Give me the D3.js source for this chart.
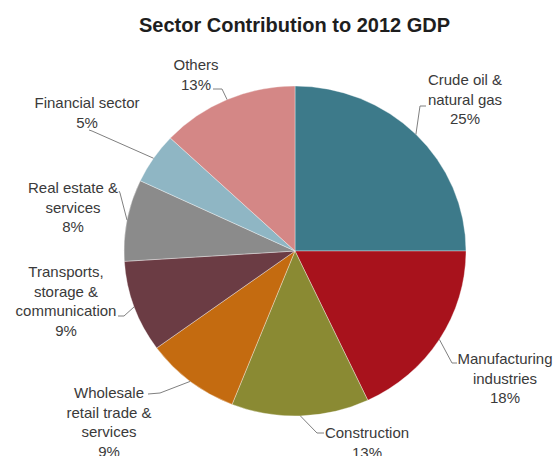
<!DOCTYPE html>
<html>
<head>
<meta charset="utf-8">
<script src="https://cdn.jsdelivr.net/npm/d3@7"></script>
<style>
  html, body { margin: 0; padding: 0; background: #fff; }
  svg { display: block; }
  text { font-family: "Liberation Sans", Arial, sans-serif; }
</style>
</head>
<body>
<svg id="chart" width="553" height="456"></svg>
<script>
// Sector shares of 2012 GDP (percent), clockwise from 12 o'clock
const categories = [
  "Crude oil &\nnatural gas",
  "Manufacturing\nindustries",
  "Construction",
  "Wholesale\nretail trade &\nservices",
  "Transports,\nstorage &\ncommunication",
  "Real estate &\nservices",
  "Financial sector",
  "Others"
];
const shares = [25, 18, 13, 9, 9, 8, 5, 13];
const sliceColors = ["#3d7a8a", "#a8121c", "#8a8a33", "#c46b10", "#6b3c44", "#8b8b8b", "#8fb6c4", "#d48786"];

// Label placement: text centre x, first baseline, leader elbow and end
const labelLayout = [
  { tx: 465, ty: 85,  elbow: [420, 106], end: [426, 106] },
  { tx: 505, ty: 364, elbow: [452, 363], end: [457, 363] },
  { tx: 367, ty: 438, elbow: [317, 433], end: [324, 433] },
  { tx: 109, ty: 398, elbow: [160, 393], end: [148, 394] },
  { tx: 66,  ty: 277, elbow: [124, 316], end: [118, 316] },
  { tx: 73,  ty: 193, elbow: [120, 193], end: [119, 191] },
  { tx: 87,  ty: 108, elbow: [92, 131],  end: [89, 130] },
  { tx: 196, ty: 70,  elbow: [222, 89],  end: [213, 89] }
];

const svg = d3.select("#chart");
const cx = 295, cy = 251, rx = 171, ry = 165;
const lineH = 19.7;

svg.append("text")
  .attr("x", 294.5).attr("y", 31.5)
  .attr("text-anchor", "middle")
  .attr("font-size", 20).attr("font-weight", "bold")
  .attr("fill", "#1e1e1e")
  .text("Sector Contribution to 2012 GDP");

const data = categories.map((c, i) => ({ name: c, value: shares[i], color: sliceColors[i], layout: labelLayout[i] }));

const pie = d3.pie().sort(null).value(d => d.value);
const arcs = pie(data);
const arc = d3.arc().innerRadius(0).outerRadius(rx);

const pieG = svg.append("g")
  .attr("transform", `translate(${cx},${cy}) scale(1,${ry / rx})`);

pieG.selectAll("path")
  .data(arcs)
  .join("path")
  .attr("d", arc)
  .attr("fill", d => d.data.color)
  .attr("stroke", "rgba(255,255,255,0.45)")
  .attr("stroke-width", 0.8)
  .attr("vector-effect", "non-scaling-stroke");

// Leader lines from the middle of each slice's rim to its label
const line = d3.line();
svg.append("g").selectAll("path")
  .data(arcs)
  .join("path")
  .attr("d", d => {
    const a = (d.startAngle + d.endAngle) / 2;
    const start = [cx + rx * Math.sin(a), cy - ry * Math.cos(a)];
    return line([start, d.data.layout.elbow, d.data.layout.end]);
  })
  .attr("fill", "none")
  .attr("stroke", "#808080")
  .attr("stroke-width", 1);

const labels = svg.append("g").selectAll("text")
  .data(arcs)
  .join("text")
  .attr("text-anchor", "middle")
  .attr("font-size", 15)
  .attr("fill", "#3a3a3a");

labels.each(function (d) {
  const lines = d.data.name.split("\n").concat([d.data.value + "%"]);
  const t = d3.select(this);
  lines.forEach((s, k) => {
    t.append("tspan")
      .attr("x", d.data.layout.tx)
      .attr("y", d.data.layout.ty + k * lineH)
      .text(s);
  });
});
</script>
</body>
</html>
